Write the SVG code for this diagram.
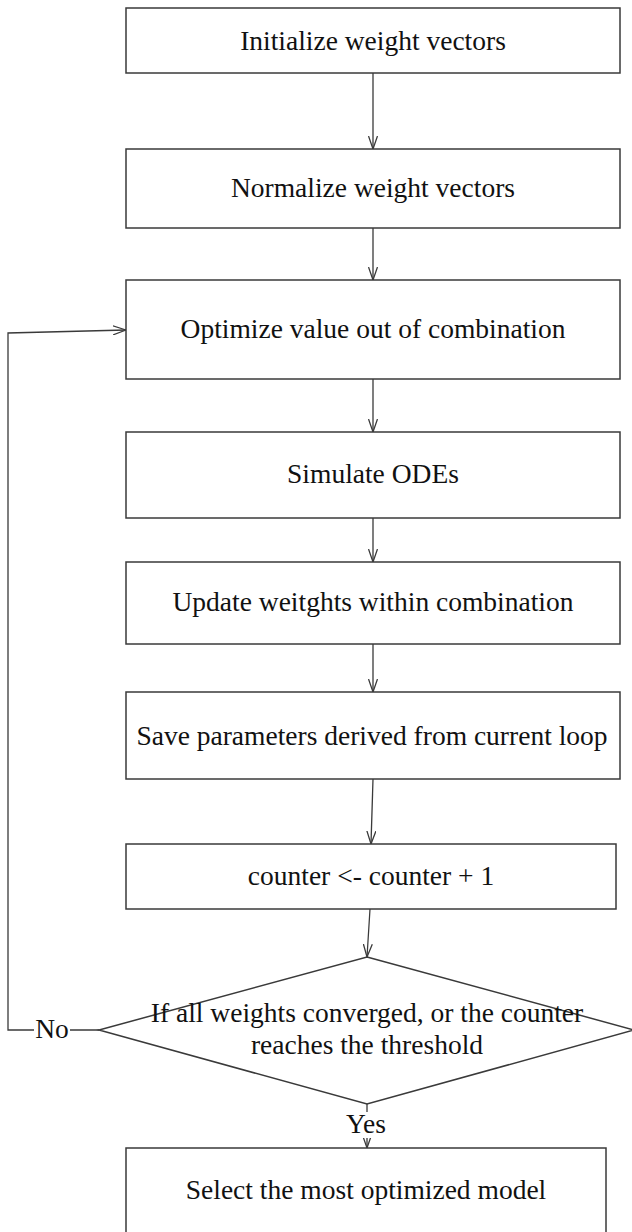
<svg xmlns="http://www.w3.org/2000/svg" width="632" height="1232" viewBox="0 0 632 1232">
<style>
.box{fill:#fff;stroke:#3a3a3a;stroke-width:1.5}
.lbl{font-family:"Liberation Serif","Times New Roman",serif;font-size:27.5px;fill:#111;text-anchor:middle}
.con{fill:none;stroke:#3a3a3a;stroke-width:1.3}
</style>
<defs>
<marker id="arr" viewBox="0 0 14 10" refX="13" refY="5" markerWidth="14" markerHeight="10" markerUnits="userSpaceOnUse" orient="auto">
<path d="M0,0.5 L13,5 L0,9.5" fill="none" stroke="#3a3a3a" stroke-width="1.3"/>
</marker>
</defs>
<rect width="632" height="1232" fill="#fff"/>
<g id="connectors">
<line class="con" x1="373" y1="73" x2="373" y2="149" marker-end="url(#arr)"/>
<line class="con" x1="373" y1="228" x2="373" y2="280" marker-end="url(#arr)"/>
<line class="con" x1="373" y1="379" x2="373" y2="432" marker-end="url(#arr)"/>
<line class="con" x1="373" y1="518" x2="373" y2="562" marker-end="url(#arr)"/>
<line class="con" x1="373" y1="644" x2="373" y2="692" marker-end="url(#arr)"/>
<line class="con" x1="373" y1="779" x2="371" y2="844" marker-end="url(#arr)"/>
<line class="con" x1="370" y1="909" x2="367" y2="957" marker-end="url(#arr)"/>
<line class="con" x1="367" y1="1104" x2="367" y2="1148" marker-end="url(#arr)"/>
<polyline class="con" points="99,1030 8,1030 8,333 126,330" marker-end="url(#arr)"/>
</g>
<g id="n1"><rect class="box" x="126" y="8" width="494" height="65"/><text class="lbl" x="373" y="50">Initialize weight vectors</text></g>
<g id="n2"><rect class="box" x="126" y="149" width="494" height="79"/><text class="lbl" x="373" y="197">Normalize weight vectors</text></g>
<g id="n3"><rect class="box" x="126" y="280" width="494" height="99"/><text class="lbl" x="373" y="338">Optimize value out of combination</text></g>
<g id="n4"><rect class="box" x="126" y="432" width="494" height="86"/><text class="lbl" x="373" y="483">Simulate ODEs</text></g>
<g id="n5"><rect class="box" x="126" y="562" width="494" height="82"/><text class="lbl" x="373" y="611">Update weitghts within combination</text></g>
<g id="n6"><rect class="box" x="126" y="692" width="494" height="87"/><text class="lbl" x="372" y="745">Save parameters derived from current loop</text></g>
<g id="n7"><rect class="box" x="126" y="844" width="490" height="65"/><text class="lbl" x="371" y="885">counter &lt;- counter + 1</text></g>
<g id="n8"><polygon class="box" points="367,957 634,1030 367,1104 99,1030"/><text class="lbl" x="367" y="1022">If all weights converged, or the counter</text><text class="lbl" x="367" y="1054">reaches the threshold</text></g>
<g id="n9"><rect class="box" x="126" y="1148" width="480" height="100"/><text class="lbl" x="366" y="1199">Select the most optimized model</text></g>
<g id="labels">
<rect x="34" y="1016" width="36" height="28" fill="#fff"/>
<text class="lbl" x="52" y="1038">No</text>
<rect x="344" y="1112" width="45" height="26" fill="#fff"/>
<text class="lbl" x="366" y="1133">Yes</text>
</g>
</svg>
